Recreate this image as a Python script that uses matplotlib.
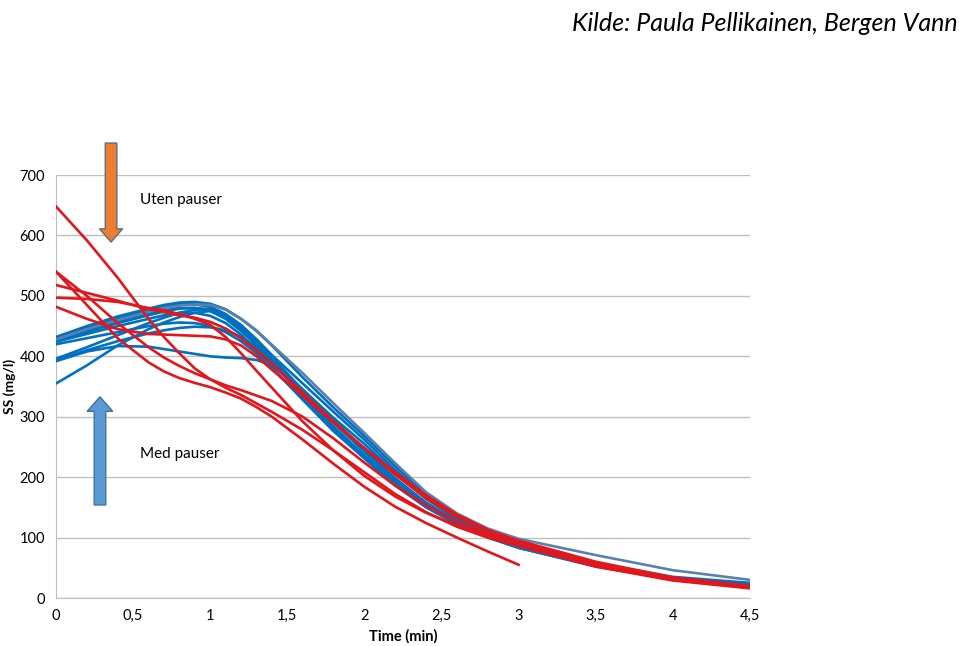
import numpy as np
import matplotlib.pyplot as plt
from matplotlib.patches import FancyArrow

# time points (min)
t = [0, 0.2, 0.4, 0.6, 0.7, 0.8, 0.9, 1.0, 1.1, 1.2, 1.3, 1.4, 1.6, 1.8,
     2.0, 2.2, 2.4, 2.6, 2.8, 3.0, 3.5, 4.0, 4.5]

# "med pauser" runs (blue)
blue_runs = [
    [432, 450, 466, 479, 485, 489, 490, 487, 478, 462, 442, 418, 365, 315, 268, 218, 172, 136, 110, 92, 58, 35, 25],
    [430, 447, 463, 476, 482, 486, 486, 482, 470, 452, 428, 400, 343, 290, 242, 196, 157, 127, 104, 86, 55, 33, 23],
    [427, 442, 457, 470, 476, 480, 480, 475, 462, 442, 418, 390, 335, 282, 236, 190, 152, 124, 101, 84, 54, 32, 22],
    [424, 437, 450, 462, 468, 472, 472, 467, 455, 436, 410, 382, 328, 276, 231, 186, 150, 122, 100, 83, 53, 31, 21],
    [420, 430, 440, 450, 454, 456, 455, 450, 440, 425, 405, 380, 330, 280, 236, 192, 154, 125, 102, 85, 54, 32, 22],
    [396, 415, 435, 455, 464, 472, 477, 477, 468, 450, 425, 396, 345, 298, 255, 207, 164, 131, 106, 88, 56, 33, 23],
    [393, 410, 425, 438, 443, 447, 449, 448, 443, 432, 415, 390, 338, 284, 235, 188, 151, 123, 101, 83, 52, 31, 21],
    [392, 408, 417, 416, 412, 408, 404, 400, 398, 397, 394, 385, 345, 295, 245, 198, 158, 127, 104, 86, 54, 32, 22],
    [355, 385, 418, 445, 456, 465, 472, 475, 466, 446, 420, 392, 334, 282, 234, 188, 151, 123, 101, 84, 53, 31, 21],
    [426, 440, 455, 468, 474, 479, 480, 478, 468, 450, 428, 402, 355, 308, 262, 212, 168, 133, 108, 90, 55, 33, 23],
]
slate_run = [428, 445, 460, 474, 480, 484, 486, 485, 477, 462, 443, 419, 372, 322,
             273, 223, 175, 140, 115, 98, 71, 46, 30]

# "uten pauser" runs (red)
red_runs = [
    [648, 592, 530, 462, 432, 405, 380, 362, 348, 336, 322, 308, 278, 244, 208, 172, 142, 118, 100, 86, 52, 29, 16],
    [482, 462, 445, 437, 436, 435, 434, 433, 428, 418, 400, 378, 335, 290, 248, 208, 170, 138, 113, 94, 56, 30, 17],
    [497, 495, 490, 480, 476, 470, 462, 452, 432, 405, 376, 348, 292, 244, 202, 168, 141, 120, 104, 91, 58, 32, 18],
    [518, 505, 492, 478, 473, 468, 464, 457, 446, 430, 410, 388, 340, 292, 248, 204, 165, 134, 111, 95, 60, 34, 20],
    [540, 500, 455, 415, 398, 384, 372, 362, 352, 344, 335, 326, 300, 264, 224, 186, 153, 126, 106, 91, 56, 31, 18],
]
# this one stops at 3 min
t_short = t[:20]
red_short = [540, 485, 430, 390, 375, 364, 356, 349, 340, 330, 316, 300, 262, 222,
             184, 151, 124, 100, 77, 55]

xticks = [0, 0.5, 1, 1.5, 2, 2.5, 3, 3.5, 4, 4.5]
xticklabels = ["0", "0,5", "1", "1,5", "2", "2,5", "3", "3,5", "4", "4,5"]
yticks = [0, 100, 200, 300, 400, 500, 600, 700]

BLUE = "#0070C0"
SLATE = "#5B80AD"
RED = "#E3161B"
GRID = "#BFBFBF"

plt.rcParams['font.family'] = ['Lato', 'DejaVu Sans']

fig = plt.figure(figsize=(9.59, 6.46), dpi=100)
ax = fig.add_axes([0.0584, 0.0743, 0.7236, 0.6547])

for run in blue_runs:
    ax.plot(t, run, color=BLUE, lw=1.9, solid_joinstyle='round', zorder=3)
ax.plot(t, slate_run, color=SLATE, lw=1.9, solid_joinstyle='round', zorder=3)
for run in red_runs:
    ax.plot(t, run, color=RED, lw=1.9, solid_joinstyle='round', zorder=4)
ax.plot(t_short, red_short, color=RED, lw=1.9, solid_joinstyle='round', zorder=4)

ax.set_xlim(0, 4.5)
ax.set_ylim(0, 700)
ax.set_xticks(xticks)
ax.set_xticklabels(xticklabels)
ax.set_yticks(yticks)
ax.tick_params(length=0, labelsize=10.5, pad=8)
ax.grid(axis='y', color=GRID, lw=1)
ax.set_axisbelow(True)
for s in ['top', 'right']:
    ax.spines[s].set_visible(False)
for s in ['left', 'bottom']:
    ax.spines[s].set_color(GRID)

ax.set_xlabel("Time (min)", fontsize=10.5, fontweight='bold', labelpad=4)
ax.set_ylabel("SS (mg/l)", fontsize=10, fontweight='bold')
ax.yaxis.set_label_coords(-0.058, 0.5)

# arrows and labels
ax.add_patch(FancyArrow(0.357, 753, 0, -164, width=0.075, head_width=0.15,
                        head_length=22, length_includes_head=True,
                        facecolor="#ED7D31", edgecolor="#5A6E8A", lw=1,
                        clip_on=False, zorder=5))
ax.add_patch(FancyArrow(0.285, 154, 0, 179, width=0.075, head_width=0.165,
                        head_length=24, length_includes_head=True,
                        facecolor="#5B9BD5", edgecolor="#41719C", lw=1,
                        clip_on=False, zorder=5))
ax.text(0.545, 659, "Uten pauser", fontsize=11, va='center')
ax.text(0.545, 238, "Med pauser", fontsize=11, va='center')

fig.text(0.999, 0.982, "Kilde: Paula Pellikainen, Bergen Vann", ha='right', va='top',
         fontsize=18, style='italic')

fig.savefig("out.png", dpi=100)
